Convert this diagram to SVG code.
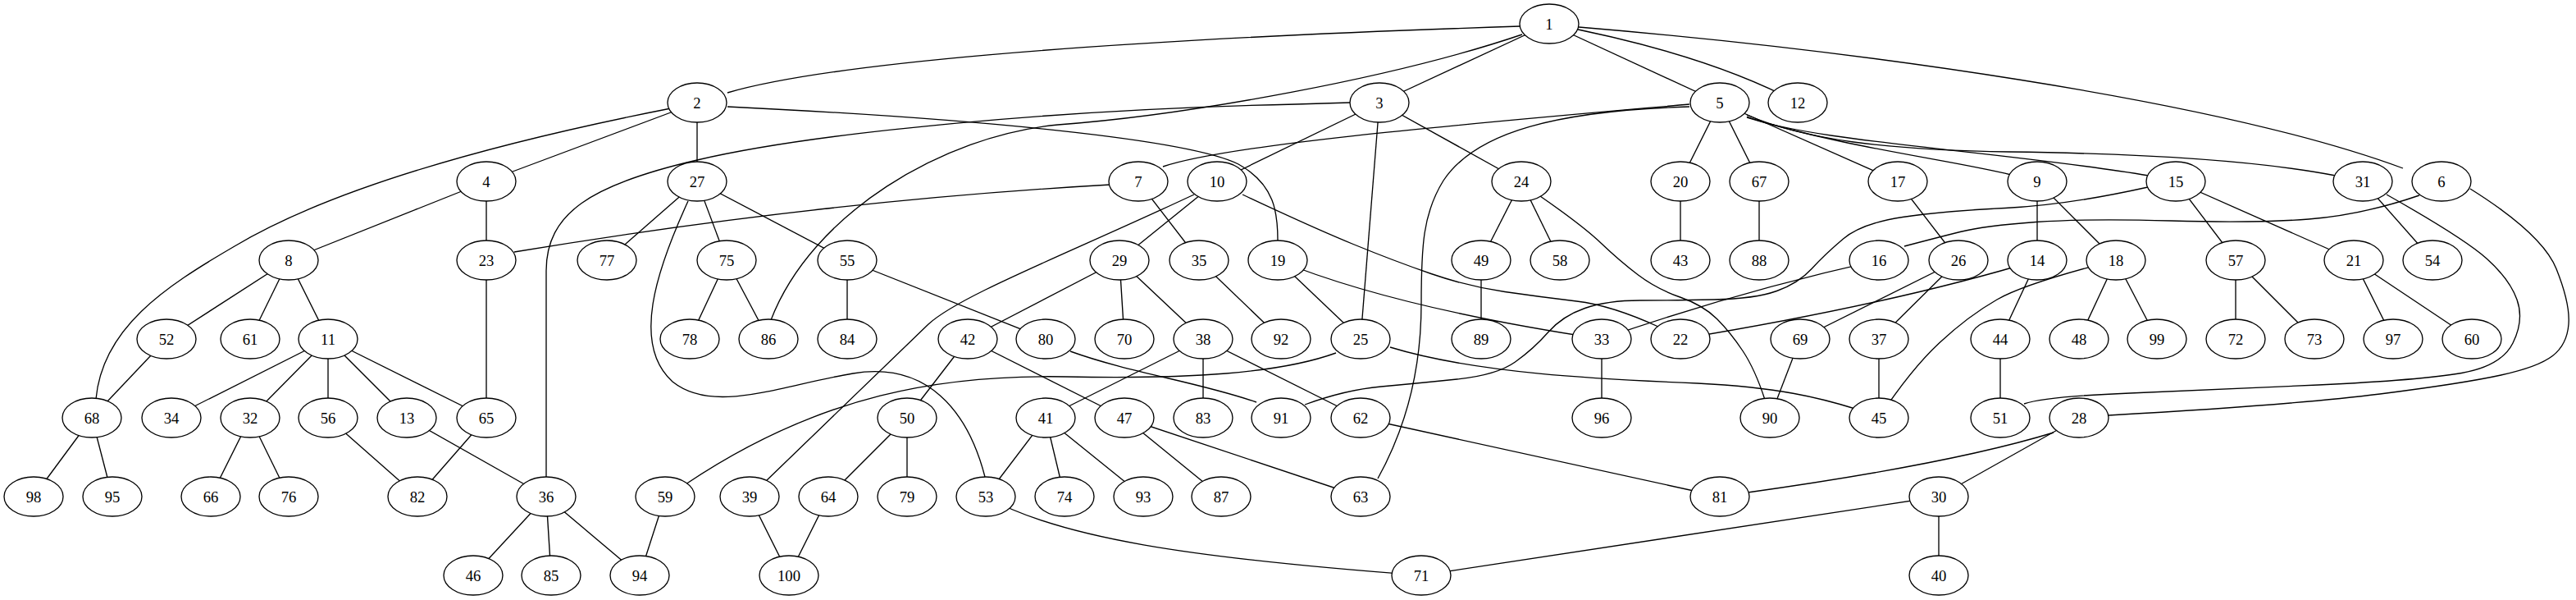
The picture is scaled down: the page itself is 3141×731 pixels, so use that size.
<svg xmlns="http://www.w3.org/2000/svg" width="3141" height="731" viewBox="0 0 3141 731">
<style>
.edges line,.edges path{stroke:#000;stroke-width:1.33;fill:none}
.node ellipse{fill:#fff;stroke:#000;stroke-width:1.33}
.node text{font-family:"Liberation Serif","Times New Roman",serif;font-size:18.67px;text-anchor:middle;fill:#000}
</style>
<rect width="3141" height="731" fill="#fff"/>
<g id="edges" class="edges">
<line x1="1889" y1="29" x2="1682" y2="125"/>
<line x1="1889" y1="29" x2="2097" y2="125"/>
<path d="M1889,29 Q2080,65 2192,125"/>
<path d="M1853,32 C1300,50 1000,80 887,113"/>
<path d="M1856,42 C1700,95 1450,140 1290,152 C1150,165 990,260 940,390"/>
<path d="M1925,33 C2250,60 2700,120 2930,205"/>
<line x1="850" y1="125" x2="593" y2="221"/>
<line x1="850" y1="125" x2="850" y2="221"/>
<path d="M818,132 C650,165 420,220 286,300 C200,350 125,400 117,486"/>
<path d="M887,130 C1200,145 1450,170 1510,200 C1555,225 1558,260 1558,293"/>
<line x1="1682" y1="125" x2="1484" y2="221"/>
<line x1="1682" y1="125" x2="1855" y2="221"/>
<line x1="1682" y1="125" x2="1659" y2="413"/>
<path d="M1646,125 L1580,127 C1300,133 1000,160 850,195 C720,225 666,260 666,330 L666,581"/>
<path d="M2060,127 C1800,150 1500,175 1418,203"/>
<path d="M2060,130 C1900,135 1800,160 1760,220 C1735,260 1733,300 1733,370 C1733,450 1715,520 1680,583"/>
<line x1="2097" y1="125" x2="2049" y2="221"/>
<line x1="2097" y1="125" x2="2145" y2="221"/>
<line x1="2097" y1="125" x2="2314" y2="221"/>
<path d="M2130,143 C2250,180 2380,195 2452,213"/>
<path d="M2130,142 C2200,172 2450,185 2620,214"/>
<path d="M2130,140 C2200,170 2300,183 2450,185 C2600,187 2750,195 2848,214"/>
<line x1="593" y1="221" x2="352" y2="317"/>
<line x1="593" y1="221" x2="593" y2="317"/>
<line x1="850" y1="221" x2="740" y2="317"/>
<path d="M839,245 C800,330 770,420 820,465 C870,505 950,470 1040,455 C1130,440 1180,500 1201,581"/>
<line x1="850" y1="221" x2="886" y2="317"/>
<line x1="850" y1="221" x2="1033" y2="317"/>
<path d="M1354,225 Q1000,245 627,307"/>
<line x1="1388" y1="221" x2="1462" y2="317"/>
<line x1="1484" y1="221" x2="1365" y2="317"/>
<path d="M1456,237 C1300,310 1170,360 1132,395 L933,587"/>
<path d="M1515,237 Q1600,277 1650,297.5 Q1700,318 1745,333.5 Q1790,349 1835,355.5 Q1880,362 1922.5,367 Q1965,372 2022,398"/>
<line x1="1855" y1="221" x2="1806" y2="317"/>
<line x1="1855" y1="221" x2="1902" y2="317"/>
<path d="M1878,239 Q1930,275 1952.5,296.5 Q1975,318 1997.5,335 Q2020,352 2048.5,362 Q2077,372 2093.5,388.5 Q2110,405 2125,427.5 Q2140,450 2152,487"/>
<line x1="2049" y1="221" x2="2049" y2="317"/>
<line x1="2145" y1="221" x2="2145" y2="317"/>
<line x1="2314" y1="221" x2="2388" y2="317"/>
<line x1="2484" y1="221" x2="2484" y2="317"/>
<line x1="2484" y1="221" x2="2580" y2="317"/>
<line x1="2653" y1="221" x2="2726" y2="317"/>
<line x1="2653" y1="221" x2="2870" y2="317"/>
<path d="M2619,228 Q2520,250 2445,253.5 Q2370,257 2320,264.5 Q2270,272 2247.5,291 Q2225,310 2209,327.5 Q2193,345 2166.5,354.5 Q2140,364 2090,365 Q2040,366 2000,366 Q1960,366 1932.5,375.5 Q1905,385 1887.5,405 Q1870,425 1847.5,441 Q1825,457 1776.5,462 Q1728,467 1684,471 Q1640,475 1591,493"/>
<line x1="2881" y1="221" x2="2966" y2="317"/>
<path d="M2910,237 Q3004,290 3032,315 Q3060,340 3069,365 Q3078,390 3064,418 Q3050,446 3001.5,454.5 Q2953,463 2826.5,469 Q2700,475 2597,479 Q2494,483 2468,492"/>
<path d="M2950,238 Q2880,262 2815,267 Q2750,272 2647.5,269 Q2545,266 2482.5,270.5 Q2420,275 2390,282.5 Q2360,290 2322,300"/>
<path d="M3012,230 Q3100,285 3117,327.5 Q3134,370 3132,395 Q3130,420 3112.5,433.5 Q3095,447 3049.5,457 Q3004,467 2902,480 Q2800,493 2571,506"/>
<line x1="352" y1="317" x2="203" y2="413"/>
<line x1="352" y1="317" x2="305" y2="413"/>
<line x1="352" y1="317" x2="400" y2="413"/>
<line x1="593" y1="317" x2="593" y2="509"/>
<line x1="886" y1="317" x2="841" y2="413"/>
<line x1="886" y1="317" x2="937" y2="413"/>
<line x1="1033" y1="317" x2="1033" y2="413"/>
<line x1="1033" y1="317" x2="1275" y2="413"/>
<line x1="1365" y1="317" x2="1180" y2="413"/>
<line x1="1365" y1="317" x2="1371" y2="413"/>
<line x1="1365" y1="317" x2="1467" y2="413"/>
<line x1="1462" y1="317" x2="1562" y2="413"/>
<line x1="1558" y1="317" x2="1659" y2="413"/>
<path d="M1558,317 Q1700,375 1953,413"/>
<line x1="1806" y1="317" x2="1806" y2="413"/>
<path d="M2291,317 Q2120,355 1953,413"/>
<line x1="2388" y1="317" x2="2195" y2="413"/>
<line x1="2388" y1="317" x2="2291" y2="413"/>
<path d="M2484,317 Q2310,370 2049,413"/>
<line x1="2484" y1="317" x2="2439" y2="413"/>
<line x1="2580" y1="317" x2="2535" y2="413"/>
<line x1="2580" y1="317" x2="2630" y2="413"/>
<path d="M2580,317 Q2470,345 2435,365 Q2400,385 2365,417.5 Q2330,450 2291,509"/>
<line x1="2726" y1="317" x2="2726" y2="413"/>
<line x1="2726" y1="317" x2="2822" y2="413"/>
<line x1="2870" y1="317" x2="2918" y2="413"/>
<line x1="2870" y1="317" x2="3014" y2="413"/>
<line x1="203" y1="413" x2="112" y2="509"/>
<line x1="400" y1="413" x2="209" y2="509"/>
<line x1="400" y1="413" x2="305" y2="509"/>
<line x1="400" y1="413" x2="400" y2="509"/>
<line x1="400" y1="413" x2="496" y2="509"/>
<line x1="400" y1="413" x2="593" y2="509"/>
<line x1="1180" y1="413" x2="1106" y2="509"/>
<line x1="1180" y1="413" x2="1371" y2="509"/>
<path d="M1305,428 C1380,455 1460,465 1532,490"/>
<line x1="1467" y1="413" x2="1275" y2="509"/>
<line x1="1467" y1="413" x2="1467" y2="509"/>
<line x1="1467" y1="413" x2="1659" y2="509"/>
<path d="M1695,423 C1800,455 1950,462 2070,467 C2170,472 2220,485 2262,498"/>
<path d="M1629,430 C1560,455 1450,462 1300,459 C1150,456 1000,480 836,590"/>
<line x1="1953" y1="413" x2="1953" y2="509"/>
<line x1="2195" y1="413" x2="2158" y2="509"/>
<line x1="2291" y1="413" x2="2291" y2="509"/>
<line x1="2439" y1="413" x2="2439" y2="509"/>
<line x1="112" y1="509" x2="41" y2="605"/>
<line x1="112" y1="509" x2="137" y2="605"/>
<line x1="305" y1="509" x2="257" y2="605"/>
<line x1="305" y1="509" x2="352" y2="605"/>
<line x1="400" y1="509" x2="509" y2="605"/>
<line x1="593" y1="509" x2="509" y2="605"/>
<line x1="496" y1="509" x2="666" y2="605"/>
<line x1="1106" y1="509" x2="1010" y2="605"/>
<line x1="1106" y1="509" x2="1106" y2="605"/>
<line x1="1275" y1="509" x2="1202" y2="605"/>
<line x1="1275" y1="509" x2="1298" y2="605"/>
<line x1="1275" y1="509" x2="1394" y2="605"/>
<line x1="1371" y1="509" x2="1489" y2="605"/>
<line x1="1371" y1="509" x2="1659" y2="605"/>
<line x1="1659" y1="509" x2="2097" y2="605"/>
<line x1="2535" y1="509" x2="2364" y2="605"/>
<path d="M2504,527 Q2380,565 2131,600"/>
<line x1="666" y1="605" x2="577" y2="701"/>
<line x1="666" y1="605" x2="672" y2="701"/>
<line x1="666" y1="605" x2="780" y2="701"/>
<line x1="811" y1="605" x2="780" y2="701"/>
<line x1="914" y1="605" x2="962" y2="701"/>
<line x1="1010" y1="605" x2="962" y2="701"/>
<path d="M1202,605 C1290,655 1450,680 1733,701"/>
<line x1="2364" y1="605" x2="2364" y2="701"/>
<line x1="2364" y1="605" x2="1733" y2="701"/>
</g>
<g id="node1" class="node"><ellipse cx="1889" cy="29" rx="36" ry="24"/><text x="1889" y="35.5">1</text></g>
<g id="node2" class="node"><ellipse cx="850" cy="125" rx="36" ry="24"/><text x="850" y="131.5">2</text></g>
<g id="node3" class="node"><ellipse cx="1682" cy="125" rx="36" ry="24"/><text x="1682" y="131.5">3</text></g>
<g id="node5" class="node"><ellipse cx="2097" cy="125" rx="36" ry="24"/><text x="2097" y="131.5">5</text></g>
<g id="node12" class="node"><ellipse cx="2192" cy="125" rx="36" ry="24"/><text x="2192" y="131.5">12</text></g>
<g id="node4" class="node"><ellipse cx="593" cy="221" rx="36" ry="24"/><text x="593" y="227.5">4</text></g>
<g id="node27" class="node"><ellipse cx="850" cy="221" rx="36" ry="24"/><text x="850" y="227.5">27</text></g>
<g id="node7" class="node"><ellipse cx="1388" cy="221" rx="36" ry="24"/><text x="1388" y="227.5">7</text></g>
<g id="node10" class="node"><ellipse cx="1484" cy="221" rx="36" ry="24"/><text x="1484" y="227.5">10</text></g>
<g id="node24" class="node"><ellipse cx="1855" cy="221" rx="36" ry="24"/><text x="1855" y="227.5">24</text></g>
<g id="node20" class="node"><ellipse cx="2049" cy="221" rx="36" ry="24"/><text x="2049" y="227.5">20</text></g>
<g id="node67" class="node"><ellipse cx="2145" cy="221" rx="36" ry="24"/><text x="2145" y="227.5">67</text></g>
<g id="node17" class="node"><ellipse cx="2314" cy="221" rx="36" ry="24"/><text x="2314" y="227.5">17</text></g>
<g id="node9" class="node"><ellipse cx="2484" cy="221" rx="36" ry="24"/><text x="2484" y="227.5">9</text></g>
<g id="node15" class="node"><ellipse cx="2653" cy="221" rx="36" ry="24"/><text x="2653" y="227.5">15</text></g>
<g id="node31" class="node"><ellipse cx="2881" cy="221" rx="36" ry="24"/><text x="2881" y="227.5">31</text></g>
<g id="node6" class="node"><ellipse cx="2977" cy="221" rx="36" ry="24"/><text x="2977" y="227.5">6</text></g>
<g id="node8" class="node"><ellipse cx="352" cy="317" rx="36" ry="24"/><text x="352" y="323.5">8</text></g>
<g id="node23" class="node"><ellipse cx="593" cy="317" rx="36" ry="24"/><text x="593" y="323.5">23</text></g>
<g id="node77" class="node"><ellipse cx="740" cy="317" rx="36" ry="24"/><text x="740" y="323.5">77</text></g>
<g id="node75" class="node"><ellipse cx="886" cy="317" rx="36" ry="24"/><text x="886" y="323.5">75</text></g>
<g id="node55" class="node"><ellipse cx="1033" cy="317" rx="36" ry="24"/><text x="1033" y="323.5">55</text></g>
<g id="node29" class="node"><ellipse cx="1365" cy="317" rx="36" ry="24"/><text x="1365" y="323.5">29</text></g>
<g id="node35" class="node"><ellipse cx="1462" cy="317" rx="36" ry="24"/><text x="1462" y="323.5">35</text></g>
<g id="node19" class="node"><ellipse cx="1558" cy="317" rx="36" ry="24"/><text x="1558" y="323.5">19</text></g>
<g id="node49" class="node"><ellipse cx="1806" cy="317" rx="36" ry="24"/><text x="1806" y="323.5">49</text></g>
<g id="node58" class="node"><ellipse cx="1902" cy="317" rx="36" ry="24"/><text x="1902" y="323.5">58</text></g>
<g id="node43" class="node"><ellipse cx="2049" cy="317" rx="36" ry="24"/><text x="2049" y="323.5">43</text></g>
<g id="node88" class="node"><ellipse cx="2145" cy="317" rx="36" ry="24"/><text x="2145" y="323.5">88</text></g>
<g id="node16" class="node"><ellipse cx="2291" cy="317" rx="36" ry="24"/><text x="2291" y="323.5">16</text></g>
<g id="node26" class="node"><ellipse cx="2388" cy="317" rx="36" ry="24"/><text x="2388" y="323.5">26</text></g>
<g id="node14" class="node"><ellipse cx="2484" cy="317" rx="36" ry="24"/><text x="2484" y="323.5">14</text></g>
<g id="node18" class="node"><ellipse cx="2580" cy="317" rx="36" ry="24"/><text x="2580" y="323.5">18</text></g>
<g id="node57" class="node"><ellipse cx="2726" cy="317" rx="36" ry="24"/><text x="2726" y="323.5">57</text></g>
<g id="node21" class="node"><ellipse cx="2870" cy="317" rx="36" ry="24"/><text x="2870" y="323.5">21</text></g>
<g id="node54" class="node"><ellipse cx="2966" cy="317" rx="36" ry="24"/><text x="2966" y="323.5">54</text></g>
<g id="node52" class="node"><ellipse cx="203" cy="413" rx="36" ry="24"/><text x="203" y="419.5">52</text></g>
<g id="node61" class="node"><ellipse cx="305" cy="413" rx="36" ry="24"/><text x="305" y="419.5">61</text></g>
<g id="node11" class="node"><ellipse cx="400" cy="413" rx="36" ry="24"/><text x="400" y="419.5">11</text></g>
<g id="node78" class="node"><ellipse cx="841" cy="413" rx="36" ry="24"/><text x="841" y="419.5">78</text></g>
<g id="node86" class="node"><ellipse cx="937" cy="413" rx="36" ry="24"/><text x="937" y="419.5">86</text></g>
<g id="node84" class="node"><ellipse cx="1033" cy="413" rx="36" ry="24"/><text x="1033" y="419.5">84</text></g>
<g id="node42" class="node"><ellipse cx="1180" cy="413" rx="36" ry="24"/><text x="1180" y="419.5">42</text></g>
<g id="node80" class="node"><ellipse cx="1275" cy="413" rx="36" ry="24"/><text x="1275" y="419.5">80</text></g>
<g id="node70" class="node"><ellipse cx="1371" cy="413" rx="36" ry="24"/><text x="1371" y="419.5">70</text></g>
<g id="node38" class="node"><ellipse cx="1467" cy="413" rx="36" ry="24"/><text x="1467" y="419.5">38</text></g>
<g id="node92" class="node"><ellipse cx="1562" cy="413" rx="36" ry="24"/><text x="1562" y="419.5">92</text></g>
<g id="node25" class="node"><ellipse cx="1659" cy="413" rx="36" ry="24"/><text x="1659" y="419.5">25</text></g>
<g id="node89" class="node"><ellipse cx="1806" cy="413" rx="36" ry="24"/><text x="1806" y="419.5">89</text></g>
<g id="node33" class="node"><ellipse cx="1953" cy="413" rx="36" ry="24"/><text x="1953" y="419.5">33</text></g>
<g id="node22" class="node"><ellipse cx="2049" cy="413" rx="36" ry="24"/><text x="2049" y="419.5">22</text></g>
<g id="node69" class="node"><ellipse cx="2195" cy="413" rx="36" ry="24"/><text x="2195" y="419.5">69</text></g>
<g id="node37" class="node"><ellipse cx="2291" cy="413" rx="36" ry="24"/><text x="2291" y="419.5">37</text></g>
<g id="node44" class="node"><ellipse cx="2439" cy="413" rx="36" ry="24"/><text x="2439" y="419.5">44</text></g>
<g id="node48" class="node"><ellipse cx="2535" cy="413" rx="36" ry="24"/><text x="2535" y="419.5">48</text></g>
<g id="node99" class="node"><ellipse cx="2630" cy="413" rx="36" ry="24"/><text x="2630" y="419.5">99</text></g>
<g id="node72" class="node"><ellipse cx="2726" cy="413" rx="36" ry="24"/><text x="2726" y="419.5">72</text></g>
<g id="node73" class="node"><ellipse cx="2822" cy="413" rx="36" ry="24"/><text x="2822" y="419.5">73</text></g>
<g id="node97" class="node"><ellipse cx="2918" cy="413" rx="36" ry="24"/><text x="2918" y="419.5">97</text></g>
<g id="node60" class="node"><ellipse cx="3014" cy="413" rx="36" ry="24"/><text x="3014" y="419.5">60</text></g>
<g id="node68" class="node"><ellipse cx="112" cy="509" rx="36" ry="24"/><text x="112" y="515.5">68</text></g>
<g id="node34" class="node"><ellipse cx="209" cy="509" rx="36" ry="24"/><text x="209" y="515.5">34</text></g>
<g id="node32" class="node"><ellipse cx="305" cy="509" rx="36" ry="24"/><text x="305" y="515.5">32</text></g>
<g id="node56" class="node"><ellipse cx="400" cy="509" rx="36" ry="24"/><text x="400" y="515.5">56</text></g>
<g id="node13" class="node"><ellipse cx="496" cy="509" rx="36" ry="24"/><text x="496" y="515.5">13</text></g>
<g id="node65" class="node"><ellipse cx="593" cy="509" rx="36" ry="24"/><text x="593" y="515.5">65</text></g>
<g id="node50" class="node"><ellipse cx="1106" cy="509" rx="36" ry="24"/><text x="1106" y="515.5">50</text></g>
<g id="node41" class="node"><ellipse cx="1275" cy="509" rx="36" ry="24"/><text x="1275" y="515.5">41</text></g>
<g id="node47" class="node"><ellipse cx="1371" cy="509" rx="36" ry="24"/><text x="1371" y="515.5">47</text></g>
<g id="node83" class="node"><ellipse cx="1467" cy="509" rx="36" ry="24"/><text x="1467" y="515.5">83</text></g>
<g id="node91" class="node"><ellipse cx="1562" cy="509" rx="36" ry="24"/><text x="1562" y="515.5">91</text></g>
<g id="node62" class="node"><ellipse cx="1659" cy="509" rx="36" ry="24"/><text x="1659" y="515.5">62</text></g>
<g id="node96" class="node"><ellipse cx="1953" cy="509" rx="36" ry="24"/><text x="1953" y="515.5">96</text></g>
<g id="node90" class="node"><ellipse cx="2158" cy="509" rx="36" ry="24"/><text x="2158" y="515.5">90</text></g>
<g id="node45" class="node"><ellipse cx="2291" cy="509" rx="36" ry="24"/><text x="2291" y="515.5">45</text></g>
<g id="node51" class="node"><ellipse cx="2439" cy="509" rx="36" ry="24"/><text x="2439" y="515.5">51</text></g>
<g id="node28" class="node"><ellipse cx="2535" cy="509" rx="36" ry="24"/><text x="2535" y="515.5">28</text></g>
<g id="node98" class="node"><ellipse cx="41" cy="605" rx="36" ry="24"/><text x="41" y="611.5">98</text></g>
<g id="node95" class="node"><ellipse cx="137" cy="605" rx="36" ry="24"/><text x="137" y="611.5">95</text></g>
<g id="node66" class="node"><ellipse cx="257" cy="605" rx="36" ry="24"/><text x="257" y="611.5">66</text></g>
<g id="node76" class="node"><ellipse cx="352" cy="605" rx="36" ry="24"/><text x="352" y="611.5">76</text></g>
<g id="node82" class="node"><ellipse cx="509" cy="605" rx="36" ry="24"/><text x="509" y="611.5">82</text></g>
<g id="node36" class="node"><ellipse cx="666" cy="605" rx="36" ry="24"/><text x="666" y="611.5">36</text></g>
<g id="node59" class="node"><ellipse cx="811" cy="605" rx="36" ry="24"/><text x="811" y="611.5">59</text></g>
<g id="node39" class="node"><ellipse cx="914" cy="605" rx="36" ry="24"/><text x="914" y="611.5">39</text></g>
<g id="node64" class="node"><ellipse cx="1010" cy="605" rx="36" ry="24"/><text x="1010" y="611.5">64</text></g>
<g id="node79" class="node"><ellipse cx="1106" cy="605" rx="36" ry="24"/><text x="1106" y="611.5">79</text></g>
<g id="node53" class="node"><ellipse cx="1202" cy="605" rx="36" ry="24"/><text x="1202" y="611.5">53</text></g>
<g id="node74" class="node"><ellipse cx="1298" cy="605" rx="36" ry="24"/><text x="1298" y="611.5">74</text></g>
<g id="node93" class="node"><ellipse cx="1394" cy="605" rx="36" ry="24"/><text x="1394" y="611.5">93</text></g>
<g id="node87" class="node"><ellipse cx="1489" cy="605" rx="36" ry="24"/><text x="1489" y="611.5">87</text></g>
<g id="node63" class="node"><ellipse cx="1659" cy="605" rx="36" ry="24"/><text x="1659" y="611.5">63</text></g>
<g id="node81" class="node"><ellipse cx="2097" cy="605" rx="36" ry="24"/><text x="2097" y="611.5">81</text></g>
<g id="node30" class="node"><ellipse cx="2364" cy="605" rx="36" ry="24"/><text x="2364" y="611.5">30</text></g>
<g id="node46" class="node"><ellipse cx="577" cy="701" rx="36" ry="24"/><text x="577" y="707.5">46</text></g>
<g id="node85" class="node"><ellipse cx="672" cy="701" rx="36" ry="24"/><text x="672" y="707.5">85</text></g>
<g id="node94" class="node"><ellipse cx="780" cy="701" rx="36" ry="24"/><text x="780" y="707.5">94</text></g>
<g id="node100" class="node"><ellipse cx="962" cy="701" rx="36" ry="24"/><text x="962" y="707.5">100</text></g>
<g id="node71" class="node"><ellipse cx="1733" cy="701" rx="36" ry="24"/><text x="1733" y="707.5">71</text></g>
<g id="node40" class="node"><ellipse cx="2364" cy="701" rx="36" ry="24"/><text x="2364" y="707.5">40</text></g>
</svg>
